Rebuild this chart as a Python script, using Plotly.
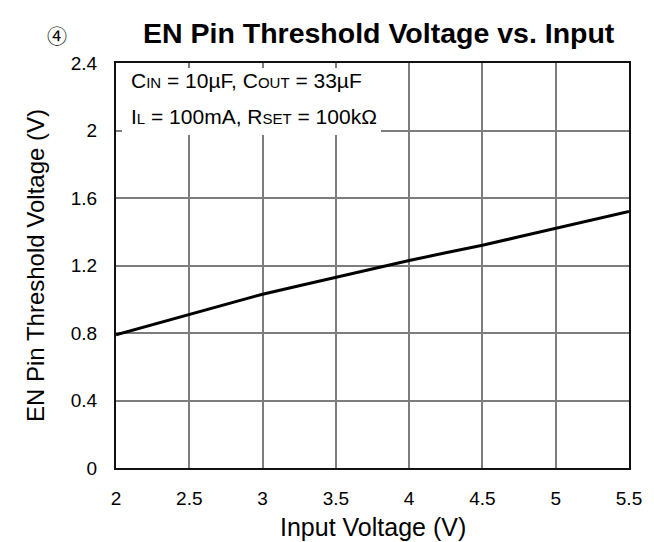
import plotly.graph_objects as go

# input voltage (V) vs EN pin threshold voltage (V)
vin = [2.0, 2.25, 2.5, 2.75, 3.0, 3.25, 3.5, 3.75, 4.0, 4.25, 4.5, 4.75, 5.0, 5.25, 5.5]
v_en = [0.79, 0.85, 0.91, 0.97, 1.03, 1.08, 1.13, 1.18, 1.23, 1.275, 1.32, 1.37, 1.42, 1.47, 1.52]

x_ticks = [2, 2.5, 3, 3.5, 4, 4.5, 5, 5.5]
x_labels = ["2", "2.5", "3", "3.5", "4", "4.5", "5", "5.5"]
y_ticks = [0, 0.4, 0.8, 1.2, 1.6, 2.0, 2.4]
y_labels = ["0", "0.4", "0.8", "1.2", "1.6", "2", "2.4"]

FONT = "Liberation Sans, Arial, sans-serif"
W, H = 654, 542
L, R, T, B = 108, 33, 55, 82
PW, PH = W - L - R, H - T - B


def px_x(p):
    # pixel x -> paper fraction
    return (p - L) / PW


def px_y(p):
    # pixel y (from top) -> paper fraction
    return (H - B - p) / PH


def small(s):
    return f"<span style='font-size:15px'>{s}</span>"


fig = go.Figure()
fig.add_trace(go.Scatter(
    x=vin, y=v_en, mode="lines",
    line=dict(color="black", width=3),
    showlegend=False, hoverinfo="skip",
))

axis_common = dict(
    showgrid=True, gridcolor="#7d7d7d", gridwidth=1.6,
    showline=True, linecolor="#111111", linewidth=2, mirror=True,
    ticks="", zeroline=False,
    tickfont=dict(family=FONT, size=19, color="black"),
)

fig.update_xaxes(range=[2, 5.5], tickvals=x_ticks, ticktext=x_labels,
                 ticklabelstandoff=12, **axis_common)
fig.update_yaxes(range=[0, 2.4], tickvals=y_ticks, ticktext=y_labels,
                 ticklabelstandoff=13, **axis_common)

# white box behind the condition text (hides the grid)
fig.add_shape(
    type="rect", xref="paper", yref="paper", layer="above",
    x0=px_x(114), x1=px_x(373), y0=px_y(127), y1=px_y(60),
    fillcolor="white", line=dict(width=0),
)
cond = [
    (f"C{small('IN')} = 10µF, C{small('OUT')} = 33µF", 72),
    (f"I{small('L')} = 100mA, R{small('SET')} = 100kΩ", 108),
]
for txt, yc in cond:
    fig.add_annotation(
        xref="paper", yref="paper", x=px_x(121), y=px_y(yc),
        xanchor="left", yanchor="middle", text=txt, showarrow=False,
        font=dict(family=FONT, size=21, color="black"), align="left",
    )

# axis titles
fig.add_annotation(
    xref="paper", yref="paper", x=0.5, y=px_y(519), yanchor="middle",
    text="Input Voltage (V)", showarrow=False,
    font=dict(family=FONT, size=25, color="black"),
)
fig.add_annotation(
    xref="paper", yref="paper", x=px_x(27), y=px_y(258),
    xanchor="center", yanchor="middle", textangle=-90,
    text="EN Pin Threshold Voltage (V)", showarrow=False,
    font=dict(family=FONT, size=24, color="black"),
)

# title and circled number
fig.add_annotation(
    xref="paper", yref="paper", x=px_x(371), y=px_y(25), yanchor="middle",
    text="<b>EN Pin Threshold Voltage vs. Input</b>", showarrow=False,
    font=dict(family=FONT, size=28.5, color="black"),
)
fig.add_annotation(
    xref="paper", yref="paper", x=px_x(37), y=px_y(27), yanchor="middle",
    text="④", showarrow=False,
    font=dict(family="Noto Sans CJK JP", size=20, color="black"),
)

fig.update_layout(
    width=W, height=H,
    margin=dict(l=L, r=R, t=T, b=B),
    paper_bgcolor="white", plot_bgcolor="white",
    font=dict(family=FONT, color="black"),
)

fig.write_html("out.html")
